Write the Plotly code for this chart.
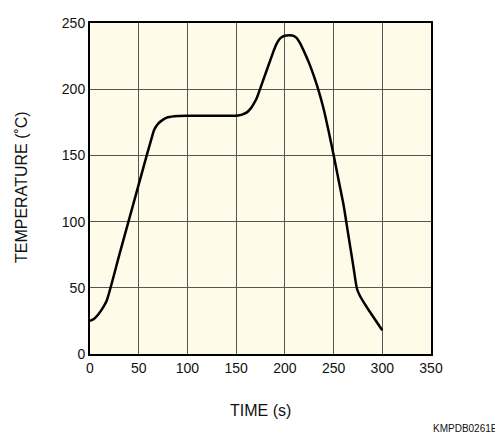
import plotly.graph_objects as go

time_s = [0, 4, 8, 12, 17, 30, 45, 58, 64, 66, 70, 75, 80, 90, 100, 150, 156, 161, 165, 168, 171,
          174.5, 188, 191, 194, 197, 200, 205, 209, 212, 215, 220, 225, 230, 235, 240, 245, 250, 255, 260,
          265, 270, 274, 277, 284, 300]
temp_c = [25, 26.5, 29.5, 33.5, 40, 74.7, 114.7, 149.4, 165, 169.5, 174, 177, 178.8, 179.8, 180, 180, 180.8, 182.5, 185.5, 189, 193,
          200, 228, 233.5, 237.3, 239.4, 240.4, 240.7, 240.3, 238.8, 235.5, 228, 219.5, 209.5, 198, 184.5, 168, 150.4, 132, 113.6,
          90.6, 67.6, 49.3, 44, 35.5, 17.9]

x_ticks = [0, 50, 100, 150, 200, 250, 300, 350]
y_ticks = [0, 50, 100, 150, 200, 250]

fig = go.Figure()
fig.add_trace(go.Scatter(x=time_s, y=temp_c, mode="lines",
                         line=dict(color="black", width=2.5, shape="spline", smoothing=0.6),
                         showlegend=False, hoverinfo="skip"))

fam = "Liberation Sans, Arial, sans-serif"
font = dict(family=fam, size=14, color="#111")

fig.update_layout(
    width=495, height=427,
    margin=dict(l=82, r=72, t=7, b=81),
    paper_bgcolor="white", plot_bgcolor="#FFFBE9",
    font=font,
    xaxis=dict(range=[0, 350], tickvals=x_ticks, ticks="", showline=True, linecolor="black", linewidth=2,
               mirror=True, showgrid=True, gridcolor="#555", gridwidth=1, zeroline=False,
               tickfont=font, fixedrange=True),
    yaxis=dict(range=[0, 250], tickvals=y_ticks, ticks="", showline=True, linecolor="black", linewidth=2,
               mirror=True, showgrid=True, gridcolor="#555", gridwidth=1, zeroline=False,
               tickfont=font, fixedrange=True),
    annotations=[
        dict(text="TIME (s)", x=0.5, y=0, xref="paper", yref="paper", yanchor="middle", xanchor="center",
             yshift=-56, showarrow=False, font=dict(family=fam, size=16, color="#111")),
        dict(text="TEMPERATURE (˚C)", x=0, y=0.5, xref="paper", yref="paper", xanchor="center", yanchor="middle",
             xshift=-68.5, yshift=1, textangle=-90, showarrow=False, font=dict(family=fam, size=16, color="#111")),
        dict(text="KMPDB0261EA", x=1, y=0, xref="paper", yref="paper", xanchor="left", yanchor="middle",
             xshift=0, yshift=-74, showarrow=False, font=dict(family=fam, size=10, color="#111")),
    ],
)

fig.write_html("out.html")
